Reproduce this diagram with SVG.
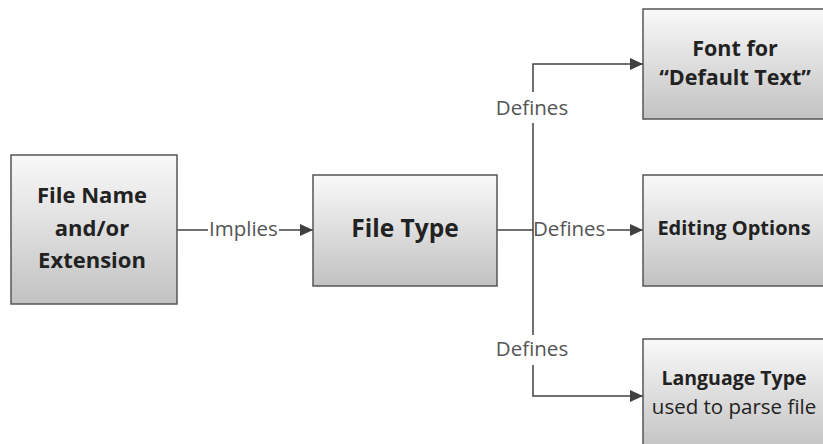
<svg xmlns="http://www.w3.org/2000/svg" width="823" height="444" viewBox="0 0 823 444">
<defs>
<linearGradient id="g" x1="0" y1="0" x2="0" y2="1">
<stop offset="0" stop-color="#f9f9f9"/>
<stop offset="1" stop-color="#c2c2c2"/>
</linearGradient>
<marker id="ah" markerWidth="13" markerHeight="12" refX="13" refY="6" orient="auto" markerUnits="userSpaceOnUse">
<path d="M0,0 L13,6 L0,12 Z" fill="#404040"/>
</marker>
<style>
.box{fill:url(#g);stroke:#555;stroke-width:1.5}
.t{font-family:"Open Sans","Liberation Sans",sans-serif;font-weight:bold;fill:#222;text-anchor:middle}
.n{font-family:"Open Sans","Liberation Sans",sans-serif;fill:#222;text-anchor:middle}
.lbl{font-family:"Open Sans","Liberation Sans",sans-serif;fill:#555;font-size:20.5px}
.c{stroke:#404040;stroke-width:1.5;fill:none}
</style>
</defs>
<rect width="823" height="444" fill="#fff"/>
<g id="connectors">
<line class="c" x1="177" y1="230" x2="208" y2="230"/>
<line class="c" x1="279" y1="230" x2="313" y2="230" marker-end="url(#ah)"/>
<text class="lbl" x="209" y="236">Implies</text>
<line class="c" x1="497" y1="230" x2="533" y2="230"/>
<line class="c" x1="607" y1="230" x2="643" y2="230" marker-end="url(#ah)"/>
<text class="lbl" x="533" y="236">Defines</text>
<polyline class="c" points="533,92 533,64 643,64" marker-end="url(#ah)"/>
<line class="c" x1="533" y1="123" x2="533" y2="335"/>
<text class="lbl" x="532" y="115" text-anchor="middle">Defines</text>
<polyline class="c" points="533,365 533,396 643,396" marker-end="url(#ah)"/>
<text class="lbl" x="532" y="356" text-anchor="middle">Defines</text>
</g>
<g id="file-name">
<rect class="box" x="11" y="155" width="166" height="149"/>
<text class="t" x="92" y="203" font-size="22">File Name</text>
<text class="t" x="92" y="236" font-size="22">and/or</text>
<text class="t" x="92" y="268" font-size="22">Extension</text>
</g>
<g id="file-type">
<rect class="box" x="313" y="175" width="184" height="111"/>
<text class="t" x="405" y="237" font-size="24.5">File Type</text>
</g>
<g id="font-default">
<rect class="box" x="643" y="9" width="182" height="110"/>
<text class="t" x="735" y="56" font-size="21.5">Font for</text>
<text class="t" x="735" y="85" font-size="21.5">“Default Text”</text>
</g>
<g id="editing-options">
<rect class="box" x="643" y="175" width="182" height="111"/>
<text class="t" x="734" y="235" font-size="20">Editing Options</text>
</g>
<g id="language-type">
<rect class="box" x="643" y="339" width="182" height="112"/>
<text class="t" x="734" y="385" font-size="19.5">Language Type</text>
<text class="n" x="734" y="414" font-size="20.5">used to parse file</text>
</g>
</svg>
